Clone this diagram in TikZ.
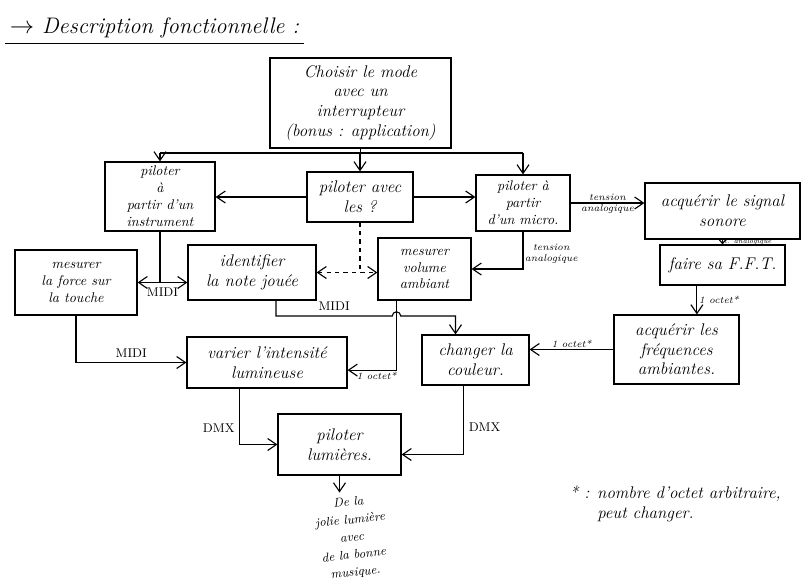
\documentclass[tikz,border=0pt]{standalone}
\usepackage{amsmath}
\usepackage{tikz}
\usetikzlibrary{arrows.meta}
\usetikzlibrary{positioning}

\begin{document}
\begin{tikzpicture}[x=0.025cm,y=-0.025cm,
    >={Straight Barb[length=2.2mm,width=3mm]},
    box/.style={draw,thick,align=center,font=\large\itshape,inner sep=2pt},
    lbl/.style={font=\scriptsize\itshape,inner sep=1pt,align=center}]
      \useasboundingbox (0,0) rectangle (807,585);
      \node[font=\fontsize{16}{20}\selectfont\itshape,anchor=west] (titre) at (5,28) {$\rightarrow$ Description fonctionnelle :};
      \draw[thick] (titre.south west) -- (titre.south east);

      \node[box,minimum width=4.525cm,minimum height=2.25cm] (mode) at (360.5,103) {Choisir le mode\\avec un\\interrupteur\\(bonus : application)};
      \node[box,minimum width=2.75cm,minimum height=1.725cm,font=\normalsize\itshape] (instr) at (160,196.5) {piloter\\à\\partir d'un\\instrument};
      \node[box,minimum width=2.65cm,minimum height=1.25cm] (avec) at (360,197) {piloter avec\\les ?};
      \node[box,minimum width=2.35cm,minimum height=1.4cm,font=\normalsize\itshape] (micro) at (523,203) {piloter à\\partir\\d'un micro.};
      \node[box,minimum width=3.875cm,minimum height=1.4cm] (signal) at (722.5,211) {acquérir le signal\\sonore};
      \node[box,minimum width=3.125cm,minimum height=1cm] (fft) at (722.5,265) {faire sa F.F.T.};
      \node[box,minimum width=3.05cm,minimum height=1.625cm,font=\normalsize\itshape] (force) at (76,282.5) {mesurer\\la force sur\\la touche};
      \node[box,minimum width=3.2cm,minimum height=1.375cm] (note) at (252,272.5) {identifier\\la note jouée};
      \node[box,minimum width=2.325cm,minimum height=1.55cm,font=\normalsize\itshape] (volume) at (424.5,269) {mesurer\\volume\\ambiant};
      \node[box,minimum width=3.125cm,minimum height=1.725cm] (freq) at (676.5,349.5) {acquérir les\\fréquences\\ambiantes.};
      \node[box,minimum width=4cm,minimum height=1.275cm] (intens) at (267,362.5) {varier l'intensité\\lumineuse};
      \node[box,minimum width=2.675cm,minimum height=1.25cm] (couleur) at (475.5,360) {changer la\\couleur.};
      \node[box,minimum width=3.075cm,minimum height=1.525cm] (lum) at (339.5,444.5) {piloter\\lumières.};

      \node[font=\fontsize{9}{12.5}\selectfont\itshape,align=center,rotate=6] (sortie) at (352,538) {De la\\jolie lumière\\avec\\de la bonne\\musique.};
      \node[font=\large\itshape,align=left,anchor=north west] (remarque) at (565,481) {* : nombre d'octet arbitraire,\\\phantom{* : }peut changer.};

      % choix du mode
      \coordinate (bus) at (355,153);
      \draw[thick] (mode.south) -- (mode.south |- bus);
      \draw[thick] (bus -| instr.north) -- (bus -| micro.north);
      \draw[thick,->] (bus -| instr.north) -- (instr.north);
      \draw[thick,->] (bus -| avec.north) -- (avec.north);
      \draw[thick,->] (bus -| micro.north) -- (micro.north);
      \draw[thick,->] (avec.west) -- (avec.west -| instr.east);
      \draw[thick,->] (avec.east) -- (avec.east -| micro.west);

      % micro
      \draw[thick,->] (micro.east) -- (micro.east -| signal.west) node[lbl,midway,above]{tension} node[lbl,midway,below]{analogique};
      \draw[thick,-{Straight Barb[length=1.2mm,width=2mm]}] (signal.south) -- (fft.north) node[lbl,midway,right,font=\tiny\itshape]{t. analogique};
      \draw[thick,->] ([xshift=-0.64cm]fft.south) -- ([xshift=-0.64cm]fft.south |- freq.north) node[lbl,midway,right]{1 octet*};
      \draw[thick,->] (freq.west) -- (freq.west -| couleur.east) node[lbl,midway,above]{1 octet*};
      \draw[thick,->] (micro.south) |- (volume.east) node[lbl,pos=0.3,right]{tension\\analogique};

      % pilote ?
      \draw[thick,dashed] (avec.south) -- (avec.south |- note.east);
      \draw[thick,dashed,<->] (note.east) -- (note.east -| volume.west);

      % instrument
      \draw[thick,<->] (force.east) -- (force.east -| note.west) node[midway,below,font=\small]{MIDI};
      \draw[thick] (instr.south) -- (instr.south |- force.east);
      \draw[thick,->] (force.south) |- (intens.west) node[pos=0.75,above,font=\small]{MIDI};
      \coordinate (volout) at ([xshift=-0.7cm]volume.south);
      \coordinate (midibus) at (0,316);
      \draw[thick,->] ([xshift=0.6cm]note.south) |- ([xshift=-3pt]volout |- midibus) node[pos=0.75,above,font=\small]{MIDI}
        arc[start angle=180,end angle=0,radius=3pt] -| ([xshift=-0.5cm]couleur.north);
      \draw[thick,->] (volout) |- ([yshift=-0.19cm]intens.east) node[lbl,pos=0.9,below right,xshift=-2pt]{1 octet*};

      % lumieres
      \draw[thick,->] ([xshift=-0.68cm]intens.south) |- (lum.west) node[pos=0.35,left,font=\small]{DMX};
      \draw[thick,->] ([xshift=-0.3cm]couleur.south) |- ([yshift=-0.25cm]lum.east) node[pos=0.3,right,font=\small]{DMX};
      \draw[thick,->] (lum.south) -- (lum.south |- sortie.north);
    \end{tikzpicture}
\end{document}
